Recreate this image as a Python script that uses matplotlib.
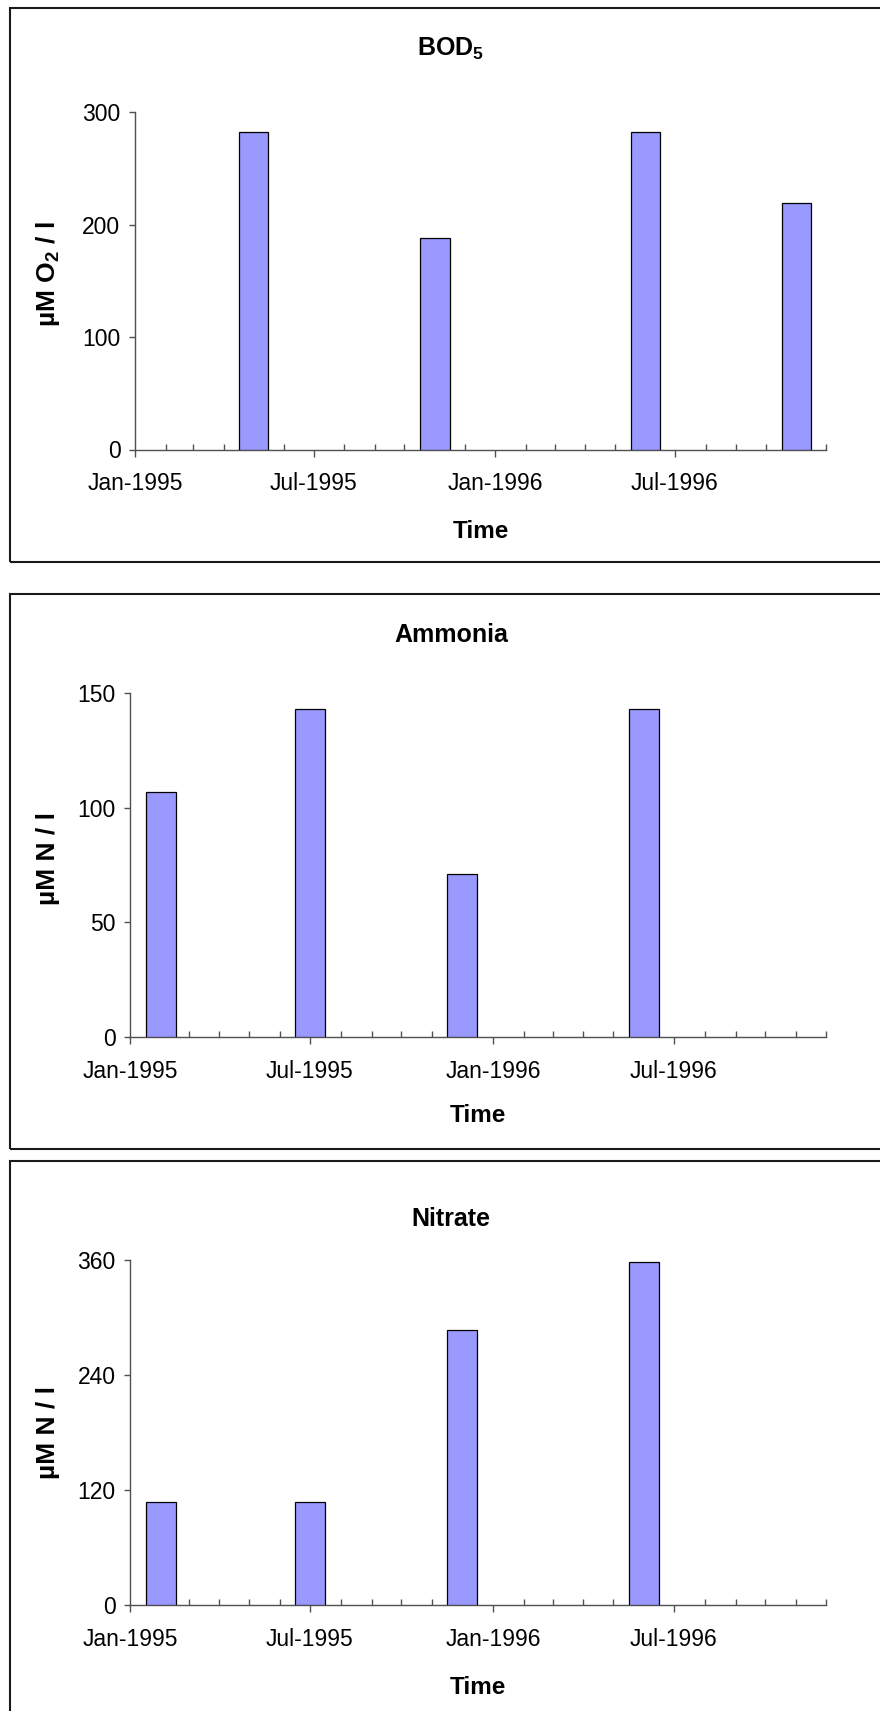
import matplotlib
matplotlib.use("Agg")
import matplotlib.pyplot as plt
import matplotlib.dates as mdates
from matplotlib.patches import Rectangle
import pandas as pd

plt.rcParams['font.family'] = ['Liberation Sans', 'DejaVu Sans']
plt.rcParams['mathtext.fontset'] = 'custom'
plt.rcParams['mathtext.rm'] = 'Liberation Sans:bold'
plt.rcParams['mathtext.bf'] = 'Liberation Sans:bold'
plt.rcParams['mathtext.it'] = 'Liberation Sans:bold:italic'

# Sampling dates and measured concentrations
bod_dates = ["1995-05-01", "1995-11-01", "1996-06-01", "1996-11-01"]
bod_values = [282, 188, 282, 219]

ammonia_dates = ["1995-02-01", "1995-07-01", "1995-12-01", "1996-06-01"]
ammonia_values = [107, 143, 71, 143]

nitrate_dates = ["1995-02-01", "1995-07-01", "1995-12-01", "1996-06-01"]
nitrate_values = [107, 107, 287, 358]

titles = ["BOD$_5$", "Ammonia", "Nitrate"]
ylabels = ["µM O$_2$ / l", "µM N / l", "µM N / l"]
yticks_list = [[0, 100, 200, 300], [0, 50, 100, 150], [0, 120, 240, 360]]
xlabel = "Time"
x_start, x_end = "1995-01-01", "1996-12-01"

W, H = 880, 1711
fig = plt.figure(figsize=(W / 100, H / 100), dpi=100)

# panel layout in pixels: frame top/bottom, axes left/right/top/bottom,
# title baseline, x-label offset below the axis, y-label vertical position
panels = [
    dict(frame=(8, 562), ax=(135, 826, 112, 449.5), title_y=56, xl=82, yl=0.52),
    dict(frame=(594, 1149), ax=(130, 826, 693, 1037), title_y=642, xl=79, yl=0.52),
    dict(frame=(1161, 1760), ax=(130, 826, 1260, 1605), title_y=1226, xl=82, yl=0.50),
]

series = [(bod_dates, bod_values), (ammonia_dates, ammonia_values),
          (nitrate_dates, nitrate_values)]

bar_color = "#9999FF"
axis_color = "#505050"

for p, (dates, vals), title, ylab, yt in zip(panels, series, titles, ylabels, yticks_list):
    ft, fb = p["frame"]
    fig.add_artist(Rectangle((10 / W, 1 - fb / H), (W + 40 - 10) / W, (fb - ft) / H,
                             transform=fig.transFigure, fill=False,
                             edgecolor="#1a1a1a", linewidth=1.5, clip_on=False))
    x0, x1, yt_px, yb_px = p["ax"]
    ax = fig.add_axes([x0 / W, 1 - yb_px / H, (x1 - x0) / W, (yb_px - yt_px) / H])

    d = pd.to_datetime(dates)
    ax.bar(d, vals, width=30, color=bar_color, edgecolor="black", linewidth=0.9,
           align="center", zorder=3)

    ax.set_xlim(pd.Timestamp(x_start), pd.Timestamp(x_end))
    ax.set_ylim(yt[0], yt[-1])
    ax.set_yticks(yt)

    ax.xaxis.set_major_locator(mdates.MonthLocator(bymonth=[1, 7]))
    ax.xaxis.set_minor_locator(mdates.MonthLocator())
    ax.xaxis.set_major_formatter(mdates.DateFormatter("%b-%Y"))

    for s in ["top", "right"]:
        ax.spines[s].set_visible(False)
    for s in ["left", "bottom"]:
        ax.spines[s].set_color(axis_color)
        ax.spines[s].set_linewidth(1.0)

    ax.tick_params(axis="x", which="major", direction="out", length=5, width=1,
                   color=axis_color, labelsize=16.5, pad=11.5)
    ax.tick_params(axis="x", which="minor", direction="in", length=4.5, width=1,
                   color=axis_color)
    ax.tick_params(axis="y", which="major", direction="out", length=4.5, width=1,
                   color=axis_color, labelsize=16.5, pad=6)

    ax.set_xlabel(xlabel, fontsize=17.5, fontweight="bold", va="center")
    ax.xaxis.set_label_coords(0.5, -p["xl"] / (yb_px - yt_px))
    ax.set_ylabel(ylab, fontsize=19, fontweight="bold", va="center", ha="center")
    ax.yaxis.set_label_coords((48 - x0) / (x1 - x0), p["yl"])

    fig.text(451 / W, 1 - p["title_y"] / H, title, ha="center", va="baseline",
             fontsize=18, fontweight="bold")

fig.savefig("out.png", dpi=100)
